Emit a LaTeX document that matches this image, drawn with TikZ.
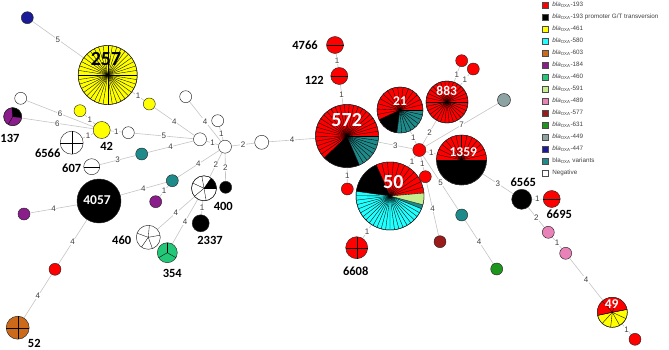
\documentclass[tikz,border=0pt]{standalone}
\usepackage{fontspec}
\setmainfont{Liberation Sans}
\newfontfamily\lblfont{Carlito}
\usetikzlibrary{backgrounds,positioning}
\definecolor{Red193}{HTML}{FF0000}
\definecolor{Yel461}{HTML}{FFFF00}
\definecolor{Cyan580}{HTML}{22FFFF}
\definecolor{Org603}{HTML}{CC6A1A}
\definecolor{Pur184}{HTML}{8B1C8B}
\definecolor{Grn460}{HTML}{22C777}
\definecolor{Lgr591}{HTML}{C6EE8F}
\definecolor{Pnk489}{HTML}{E882B8}
\definecolor{Drd577}{HTML}{9B1B1B}
\definecolor{Grn631}{HTML}{1E961E}
\definecolor{Gry449}{HTML}{8DA3A3}
\definecolor{Nvy447}{HTML}{1B1B99}
\definecolor{TealVar}{HTML}{1F8A8A}
\definecolor{EdgeLine}{HTML}{C4C4C4}
\definecolor{EdgeTxt}{HTML}{404040}
\newcommand{\oxa}[1]{\textit{bla}\textsubscript{OXA}-#1}
% pie helpers: node, radius, start, end, ...
\newcommand{\pieseg}[5]{\fill[#5] (#1.center) -- ++(#3:#2pt) arc[start angle=#3, end angle=#4, radius=#2pt] -- cycle;}
\newcommand{\piespk}[5]{\foreach \k in {0,...,#5}{\draw[spk] (#1.center) -- ++({#3+\k*(#4-#3)/#5}:#2pt);}}
\newcommand{\piediv}[3]{\foreach \a in {#3}{\draw[spk] (#1.center) -- ++(\a:#2pt);}}
\newcommand{\pierim}[2]{\draw[rim] (#1.center) circle[radius=#2pt];}
\tikzset{
 st/.style={circle, draw=black!85, line width=0.45pt, inner sep=0pt, minimum size=#1},
 link/.style={draw=EdgeLine, line width=0.6pt},
 elbl/.style={fill=white, inner sep=0.5pt, font=\fontsize{8}{8}\selectfont, text=EdgeTxt},
 spk/.style={draw=black, line width=0.35pt},
 rim/.style={draw=black!85, line width=0.45pt},
 idlbl/.style={inner sep=0pt, font=\lblfont\bfseries\fontsize{12.5}{12.5}\selectfont},
 inlbl/.style={inner sep=0pt, text=white, font=\lblfont\bfseries\fontsize{13.5}{13.5}\selectfont},
 biglbl/.style={inner sep=0pt, font=\lblfont\bfseries\fontsize{20}{20}\selectfont},
 legbox/.style={draw=black!70, line width=0.4pt, minimum size=6pt, inner sep=0pt},
 legtxt/.style={inner sep=0pt, font=\fontsize{6.3}{6.3}\selectfont, text=black!75}
}
\begin{document}
\begin{tikzpicture}[x=1pt,y=1pt]
\useasboundingbox (0,0) rectangle (669,-349);
% left cluster
\node[st=12pt, fill=Nvy447] (blu) at (27.3,-17.7) {};
\node[st=59pt, fill=Yel461] (n257) at (107.7,-75) {};
\node[st=12pt, fill=Yel461] (y1) at (149.3,-104) {};
\node[st=12pt, fill=white] (w137) at (20.7,-98.3) {};
\node[st=18pt, fill=Pur184] (n137) at (12.7,-116.7) {};
\node[st=12pt, fill=Yel461] (y2) at (80,-110.7) {};
\node[st=17pt, fill=Yel461] (n42) at (101.7,-130) {};
\node[st=12pt, fill=white] (w42) at (128.3,-132.7) {};
\node[st=23pt, fill=white] (n6566) at (71.7,-142.7) {};
\node[st=16pt, fill=white] (n607) at (91.7,-166.7) {};
\node[st=12pt, fill=TealVar] (t1) at (141.7,-154) {};
\node[st=13pt, fill=white] (wa) at (200,-139.3) {};
\node[st=12pt, fill=white] (wfar) at (185.7,-96.7) {};
\node[st=12pt, fill=white] (wtop) at (217.7,-120.7) {};
\node[st=13pt, fill=white] (hub) at (225,-146.7) {};
\node[st=14pt, fill=white] (wr) at (261.7,-142.3) {};
\node[st=12pt, fill=TealVar] (t2) at (172.3,-180.7) {};
\node[st=12pt, fill=Pur184] (p2) at (155.7,-201.7) {};
\node[st=44pt, fill=black] (n4057) at (99,-201) {};
\node[st=12pt, fill=Pur184] (p1) at (24,-214) {};
\node[st=12pt, fill=Red193] (rd1) at (55,-269.3) {};
\node[st=23pt, fill=Org603] (n52) at (17.7,-327.7) {};
\node[st=25pt, fill=white] (n400) at (204,-188.3) {};
\node[st=12pt, fill=black] (b400) at (225.7,-187.3) {};
\node[st=17pt, fill=black] (n2337) at (200.7,-223.3) {};
\node[st=24pt, fill=white] (n460) at (148.3,-237.3) {};
\node[st=20pt, fill=Grn460] (n354) at (167.3,-252.7) {};
% right cluster
\node[st=17pt, fill=Red193] (n4766) at (335,-45) {};
\node[st=17pt, fill=Red193] (n122) at (339.3,-76) {};
\node[st=63pt, fill=Red193] (n572) at (347,-136) {};
\node[st=12pt, fill=Red193] (rs572) at (347.3,-189) {};
\node[st=46pt, fill=Red193] (n21) at (400,-110) {};
\node[st=42pt, fill=Red193] (n883) at (447,-102) {};
\node[st=12pt, fill=Red193] (rt1) at (461.7,-60.7) {};
\node[st=12pt, fill=Red193] (rt2) at (473.3,-69) {};
\node[st=13pt, fill=Red193] (rh) at (419.3,-150) {};
\node[st=50pt, fill=black] (n1359) at (461.5,-160) {};
\node[st=13pt, fill=Gry449] (gy) at (504,-100) {};
\node[st=68pt, fill=Cyan580] (n50) at (390,-196) {};
\node[st=12pt, fill=Red193] (rs50) at (425.3,-176.7) {};
\node[st=22pt, fill=Red193] (n6608) at (356.7,-247.7) {};
\node[st=12pt, fill=Drd577] (dr) at (440,-241.7) {};
\node[st=12pt, fill=TealVar] (t3) at (461.7,-215) {};
\node[st=12pt, fill=Grn631] (gr) at (496.7,-269) {};
\node[st=20pt, fill=black] (n6565) at (521.7,-199.3) {};
\node[st=17pt, fill=Red193] (n6695) at (551.7,-199) {};
\node[st=12pt, fill=Pnk489] (pk1) at (548.3,-232.3) {};
\node[st=12pt, fill=Pnk489] (pk2) at (565.7,-253.3) {};
\node[st=30pt, fill=Yel461] (n49) at (612.3,-312.3) {};
\node[st=12pt, fill=Red193] (r49) at (635,-339.3) {};
% links
\begin{scope}[on background layer]
\draw[link] (blu) -- node[elbl]{5} (n257);
\draw[link] (n257) -- node[elbl]{1} (y1);
\draw[link] (y1) -- node[elbl]{4} (wa);
\draw[link] (w137) -- node[elbl]{6} (n42);
\draw[link] (n137) -- node[elbl]{6} (n42);
\draw[link] (y2) -- node[elbl]{1} (n42);
\draw[link] (n6566) -- node[elbl]{1} (n42);
\draw[link] (n42) -- node[elbl]{1} (w42);
\draw[link] (w42) -- node[elbl]{5} (wa);
\draw[link] (t1) -- node[elbl]{4} (wa);
\draw[link] (n607) -- node[elbl]{3} (t1);
\draw[link] (wa) -- node[elbl]{1} (hub);
\draw[link] (wfar) -- node[elbl]{4} (hub);
\draw[link] (wtop) -- node[elbl]{1} (hub);
\draw[link] (hub) -- node[elbl]{2} (wr);
\draw[link] (wr) -- node[elbl]{4} (n572);
\draw[link] (hub) -- node[elbl]{4} (t2);
\draw[link] (hub) -- node[elbl]{2} (n400);
\draw[link] (hub) -- node[elbl]{2} (b400);
\draw[link] (t2) -- node[elbl]{4} (n4057);
\draw[link] (t2) -- node[elbl]{1} (p2);
\draw[link] (n4057) -- node[elbl]{4} (p1);
\draw[link] (n4057) -- node[elbl]{4} (rd1);
\draw[link] (rd1) -- node[elbl]{4} (n52);
\draw[link] (n400) -- node[elbl]{1} (n2337);
\draw[link] (n400) -- node[elbl]{4} (n460);
\draw[link] (n400) -- node[elbl]{4} (n354);
\draw[link] (n572) -- node[elbl]{1} (n122);
\draw[link] (n122) -- node[elbl]{1} (n4766);
\draw[link] (n572) -- node[elbl]{1} (rs572);
\draw[link] (n572) -- node[elbl]{3} (rh);
\draw[link] (n21) -- node[elbl]{1} (rh);
\draw[link] (n883) -- node[elbl]{2} (rh);
\draw[link] (n883) -- node[elbl]{1} (rt1);
\draw[link] (n883) -- node[elbl]{1} (rt2);
\draw[link] (rh) -- node[elbl]{1} (n1359);
\draw[link] (rh) -- node[elbl]{7} (gy);
\draw[link] (rh) -- node[elbl]{1} (n50);
\draw[link] (rh) -- node[elbl]{1} (rs50);
\draw[link] (rs50) -- node[elbl]{4} (dr);
\draw[link] (rh) -- node[elbl]{5} (t3);
\draw[link] (t3) -- node[elbl]{4} (gr);
\draw[link] (n50) -- node[elbl]{1} (n6608);
\draw[link] (n1359) -- node[elbl]{3} (n6565);
\draw[link] (n6565) -- node[elbl]{1} (n6695);
\draw[link] (n6565) -- node[elbl]{2} (pk1);
\draw[link] (pk1) -- node[elbl]{1} (pk2);
\draw[link] (pk2) -- node[elbl]{4} (n49);
\draw[link] (n49) -- node[elbl]{1} (r49);
\end{scope}
% pie slices
\piespk{n257}{29.5}{0}{351}{39}
\pierim{n257}{29.5}
\pieseg{n137}{9}{355}{455}{black}
\piediv{n137}{9}{355,95,240}
\pierim{n137}{9}
\piediv{n6566}{11.5}{0,90,180,270}
\piediv{n607}{8}{0,180}
\piediv{n52}{11.5}{0,90,180,270}
\pieseg{n400}{12.5}{0}{55}{black}
\piediv{n400}{12.5}{0,55,100,155,220,280}
\pierim{n400}{12.5}
\piediv{n460}{12}{10,85,160,235,290}
\piediv{n354}{10}{90,210,330}
\piediv{n4766}{8.5}{0,180}
\piediv{n122}{8.5}{0,180}
\piediv{n6695}{8.5}{0,180}
\piediv{n6608}{11}{0,90,180,270}
\pieseg{n572}{31.5}{224}{293}{black}
\pieseg{n572}{31.5}{293}{360}{TealVar}
\piespk{n572}{31.5}{0}{224}{26}
\piespk{n572}{31.5}{293}{360}{8}
\pierim{n572}{31.5}
\pieseg{n21}{23}{205}{262}{black}
\pieseg{n21}{23}{262}{360}{TealVar}
\piespk{n21}{23}{0}{205}{15}
\piespk{n21}{23}{262}{360}{8}
\pierim{n21}{23}
\piespk{n883}{21}{0}{348}{29}
\pierim{n883}{21}
\pieseg{n1359}{25}{0}{180}{Red193}
\piespk{n1359}{25}{0}{180}{14}
\pierim{n1359}{25}
\pieseg{n50}{34}{5}{114}{Red193}
\pieseg{n50}{34}{114}{172}{black}
\pieseg{n50}{34}{338}{345}{TealVar}
\pieseg{n50}{34}{345}{365}{Lgr591}
\piespk{n50}{34}{5}{114}{11}
\piespk{n50}{34}{172}{338}{22}
\piediv{n50}{34}{345}
\pierim{n50}{34}
\pieseg{n49}{15}{11}{192}{Red193}
\piespk{n49}{15}{11}{192}{3}
\piespk{n49}{15}{192}{371}{5}
\pierim{n49}{15}
% type labels
\node[biglbl] (l257) at (106,-59) {257};
\node[idlbl] (l137) at (10,-138) {137};
\node[idlbl] (l42) at (106.7,-146.7) {42};
\node[idlbl] (l6566) at (47.7,-153.3) {6566};
\node[idlbl] (l607) at (71.7,-168.3) {607};
\node[inlbl] (l4057) at (97,-200) {4057};
\node[idlbl] (l400) at (223.3,-206.7) {400};
\node[idlbl] (l2337) at (210,-240.7) {2337};
\node[idlbl] (l460) at (121.7,-240.7) {460};
\node[idlbl] (l354) at (172.3,-273.3) {354};
\node[idlbl] (l52) at (34.3,-343.3) {52};
\node[idlbl] (l4766) at (305,-45) {4766};
\node[idlbl] (l122) at (314.3,-80.7) {122};
\node[biglbl, text=white] (l572) at (346.7,-120) {572};
\node[inlbl] (l21) at (400,-101) {21};
\node[inlbl] (l883) at (446.7,-90.7) {883};
\node[inlbl] (l1359) at (463.3,-151.7) {1359};
\node[biglbl, text=white] (l50) at (393.3,-181.7) {50};
\node[idlbl] (l6608) at (355.7,-271.7) {6608};
\node[idlbl] (l6565) at (523.3,-182.3) {6565};
\node[idlbl] (l6695) at (559.3,-214) {6695};
\node[inlbl] (l49) at (611.7,-304) {49};
% legend
\foreach \c/\t [count=\i] in {Red193/{\oxa{193}}, black/{\oxa{193} promoter G/T transversion},
  Yel461/{\oxa{461}}, Cyan580/{\oxa{580}}, Org603/{\oxa{603}}, Pur184/{\oxa{184}},
  Grn460/{\oxa{460}}, Lgr591/{\oxa{591}}, Pnk489/{\oxa{489}}, Drd577/{\oxa{577}},
  Grn631/{\oxa{631}}, Gry449/{\oxa{449}}, Nvy447/{\oxa{447}},
  TealVar/{bla\textsubscript{OXA} variants}, white/{Negative}}{
  \node[legbox, fill=\c] (lb\i) at (545,{-5.2-12*(\i-1)}) {};
  \node[legtxt, right=4pt of lb\i] (lt\i) {\t};
}
\end{tikzpicture}
\end{document}
